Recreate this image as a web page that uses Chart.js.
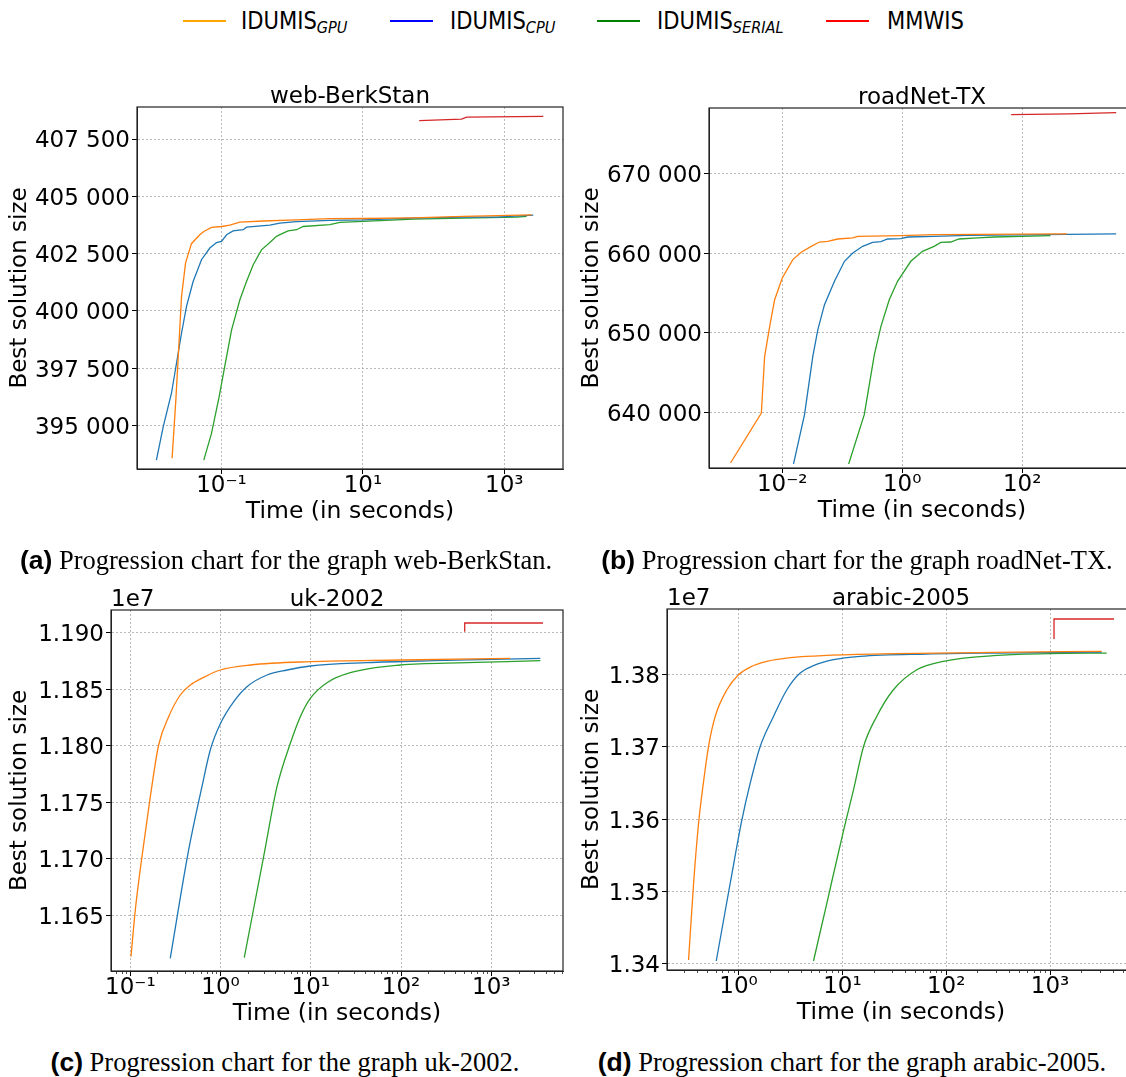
<!DOCTYPE html>
<html>
<head>
<meta charset="utf-8">
<script src="https://cdn.jsdelivr.net/npm/chart.js@4.4.1/dist/chart.umd.min.js"></script>
<style>
  html, body { margin: 0; padding: 0; background: #fff; overflow: hidden; }
  body { width: 1126px; height: 1077px; position: relative; font-family: "DejaVu Sans", sans-serif; }
  canvas { position: absolute; }
  .leg-line { position: absolute; top: 20px; height: 2px; width: 43px; }
  .leg-text { position: absolute; top: 9px; font-size: 24px; line-height: 24px; transform: scaleX(0.88); transform-origin: 0 0; white-space: nowrap; }
  .leg-text sub { font-size: 16.5px; font-style: italic; vertical-align: -4px; line-height: 0; }
  .cap { position: absolute; width: 700px; text-align: center; font-family: "Liberation Serif", serif; font-size: 26.5px; line-height: 26px; white-space: nowrap; }
  .cap b { font-family: "Liberation Sans", sans-serif; }
</style>
</head>
<body>
<div class="leg-line" style="left:183px;background:orange"></div>
<div class="leg-text" style="left:241px">IDUMIS<sub>GPU</sub></div>
<div class="leg-line" style="left:390px;background:blue"></div>
<div class="leg-text" style="left:450px">IDUMIS<sub>CPU</sub></div>
<div class="leg-line" style="left:597px;background:green"></div>
<div class="leg-text" style="left:657px">IDUMIS<sub>SERIAL</sub></div>
<div class="leg-line" style="left:826px;background:red"></div>
<div class="leg-text" style="left:887px">MMWIS</div>

<canvas id="chartA"></canvas>
<canvas id="chartB"></canvas>
<canvas id="chartC"></canvas>
<canvas id="chartD"></canvas>

<div class="cap" style="left:-64px;top:547px"><b>(a)</b> Progression chart for the graph web-BerkStan.</div>
<div class="cap" style="left:507px;top:547px"><b>(b)</b> Progression chart for the graph roadNet-TX.</div>
<div class="cap" style="left:-65px;top:1049px"><b>(c)</b> Progression chart for the graph uk-2002.</div>
<div class="cap" style="left:502px;top:1049px"><b>(d)</b> Progression chart for the graph arabic-2005.</div>

<script>
// ---- web-BerkStan (time in s, best solution size) ----
const webGpuT = [0.0200, 0.0226, 0.0252, 0.0272, 0.0310, 0.0376, 0.0493, 0.0562, 0.0722, 0.100, 0.131, 0.163, 0.182, 0.389, 1.15, 3.41, 10.1, 51.6, 263, 2440];
const webGpuY = [393560, 396100, 398730, 400620, 402080, 402930, 403320, 403460, 403640, 403680, 403740, 403830, 403870, 403920, 403970, 404020, 404030, 404060, 404120, 404190];
const webCpuT = [0.0120, 0.0150, 0.0196, 0.0231, 0.0272, 0.0320, 0.0397, 0.0521, 0.0684, 0.0850, 0.100, 0.118, 0.146, 0.203, 0.226, 0.483, 0.668, 1.15, 3.41, 10.1, 51.6, 263, 780, 2570];
const webCpuY = [393480, 394940, 396400, 397710, 399020, 400190, 401280, 402230, 402740, 402980, 403030, 403320, 403490, 403540, 403650, 403740, 403830, 403890, 403950, 403970, 404050, 404090, 404090, 404180];
const webSerT = [0.0562, 0.0722, 0.0927, 0.111, 0.139, 0.182, 0.226, 0.281, 0.368, 0.483, 0.600, 0.706, 0.877, 1.15, 1.43, 3.41, 4.73, 10.1, 51.6, 263, 1496, 2070];
const webSerY = [393480, 394650, 396250, 397560, 399170, 400480, 401280, 402010, 402660, 402980, 403250, 403360, 403490, 403540, 403680, 403760, 403860, 403900, 404000, 404050, 404090, 404120];
const webMmwT = [62.7, 249, 293, 3565];
const webMmwY = [408300, 408370, 408460, 408490];
const webXRange = [0.00638, 6776];
const webYRange = [393092, 408898];
const webXTicks = [0.1, 10, 1000];
const webYTicks = [395000, 397500, 400000, 402500, 405000, 407500];

// ---- roadNet-TX ----
const roadGpuT = [0.00137, 0.00448, 0.00508, 0.00632, 0.00746, 0.0100, 0.0150, 0.0207, 0.0303, 0.0417, 0.0574, 0.0841, 0.150, 0.181, 0.951, 3.40, 560];
const roadGpuY = [633680, 639960, 647070, 651260, 654180, 656900, 659210, 660130, 660880, 661420, 661510, 661800, 661930, 662130, 662220, 662340, 662430];
const roadCpuT = [0.0154, 0.0235, 0.0323, 0.0392, 0.0506, 0.0742, 0.109, 0.150, 0.219, 0.321, 0.442, 0.570, 0.951, 1.23, 3.40, 12.2, 3700];
const roadCpuY = [633560, 639750, 647070, 650420, 653560, 656490, 659000, 660040, 660880, 661380, 661460, 661800, 661840, 662050, 662130, 662260, 662430];
const roadSerT = [0.128, 0.233, 0.343, 0.442, 0.608, 0.836, 1.39, 2.18, 3.40, 4.40, 6.45, 8.86, 17.9, 33.8, 296];
const roadSerY = [633560, 639750, 647280, 650840, 654180, 656490, 659000, 660250, 660880, 661380, 661420, 661800, 661930, 662050, 662220];
const roadMmwT = [65.6, 600, 3700];
const roadMmwY = [677400, 677500, 677660];
const roadXRange = [0.000644, 7620];
const roadYRange = [633054, 678243];
const roadXTicks = [0.01, 1, 100];
const roadYTicks = [640000, 650000, 660000, 670000];

// ---- uk-2002 ----
const ukGpuT = [0.1017, 0.1136, 0.1346, 0.1666, 0.206, 0.266, 0.358, 0.462, 0.650, 0.993, 2.14, 9.87, 98.1, 1626];
const ukGpuY = [11613450, 11654730, 11701890, 11754960, 11800650, 11825710, 11844870, 11853720, 11860500, 11866980, 11871400, 11874350, 11875830, 11877300];
const ukCpuT = [0.277, 0.443, 0.622, 0.769, 1.00, 1.40, 1.96, 3.27, 5.44, 9.87, 41.9, 229, 3490];
const ukCpuY = [11611980, 11707790, 11763800, 11796230, 11819810, 11838980, 11852240, 11862560, 11866980, 11870520, 11873470, 11875240, 11877300];
const ukSerT = [1.83, 3.00, 4.22, 5.93, 7.65, 9.87, 15.1, 27.4, 98.1, 537, 3490];
const ukSerY = [11612570, 11701890, 11763800, 11802130, 11825710, 11841920, 11855780, 11864620, 11871400, 11873470, 11875240];
const ukMmwT = [507, 507, 3740];
const ukMmwY = [11900880, 11908550, 11908550];
const ukXRange = [0.0611, 6223];
const ukYRange = [11600768, 11920046];
const ukXTicks = [0.1, 1, 10, 100, 1000];
const ukYTicks = [11650000, 11700000, 11750000, 11800000, 11850000, 11900000];

// ---- arabic-2005 ----
const arGpuT = [0.330, 0.369, 0.412, 0.454, 0.514, 0.596, 0.773, 1.00, 1.295, 1.874, 3.38, 7.08, 31.0, 285, 3140];
const arGpuY = [13405080, 13511310, 13594450, 13645260, 13700690, 13742260, 13779210, 13800000, 13810620, 13818480, 13824020, 13826790, 13829100, 13830950, 13832330];
const arCpuT = [0.610, 0.831, 1.077, 1.295, 1.616, 2.17, 2.92, 3.92, 5.27, 8.21, 14.8, 65.0, 285, 3140];
const arCpuY = [13403690, 13511310, 13599070, 13649880, 13700690, 13742260, 13779210, 13802310, 13812470, 13820790, 13825410, 13828640, 13830020, 13831410];
const arSerT = [5.27, 7.08, 10.3, 12.8, 16.0, 21.4, 31.0, 52.1, 94.0, 285, 1000, 3510];
const arSerY = [13403690, 13483600, 13585220, 13640650, 13700690, 13742260, 13779210, 13806930, 13818480, 13826330, 13829100, 13830020];
const arMmwT = [1092, 1092, 4130];
const arMmwY = [13849420, 13877140, 13877140];
const arXRange = [0.2046, 6580];
const arYRange = [13391224, 13890994];
const arXTicks = [1, 10, 100, 1000];
const arYTicks = [13400000, 13500000, 13600000, 13700000, 13800000];

const seriesNames = ["IDUMIS GPU", "IDUMIS CPU", "IDUMIS SERIAL", "MMWIS"];
const seriesColors = ["#ff7f0e", "#1f77b4", "#2ca02c", "#d62728"];

Chart.defaults.font.family = "'DejaVu Sans', sans-serif";
Chart.defaults.color = "#000";

const FS = 23;
const XH = 55; // height of x axis block

const sup = { "-": "\u207B", "0": "\u2070", "1": "\u00B9", "2": "\u00B2", "3": "\u00B3" };
function pow10Label(v) {
  const e = Math.round(Math.log10(v));
  return "10" + String(e).split("").map(c => sup[c]).join("");
}
function spaced(v) {
  return String(Math.round(v)).replace(/\B(?=(\d{3})+(?!\d))/g, " ");
}
function pts(t, y) {
  return t.map((v, i) => ({ x: v, y: y[i] }));
}

// frame on all four sides, minor log ticks, title over the plot area, offset text
const framePlugin = {
  id: "frame",
  afterDraw(chart) {
    const a = chart.chartArea, ctx = chart.ctx;
    const o = chart.options.plugins.extra || {};
    ctx.save();
    ctx.strokeStyle = "#222";
    ctx.lineWidth = 1.2;
    ctx.strokeRect(a.left, a.top, a.right - a.left, a.bottom - a.top);
    if (o.minor) {
      const sx = chart.scales.x;
      const lo = Math.floor(Math.log10(sx.min)), hi = Math.ceil(Math.log10(sx.max));
      ctx.lineWidth = 0.8;
      for (let k = lo; k <= hi; k++) {
        for (let m = 2; m <= 9; m++) {
          const v = m * Math.pow(10, k);
          if (v <= sx.min || v >= sx.max) continue;
          const px = Math.round(sx.getPixelForValue(v)) + 0.5;
          ctx.beginPath();
          ctx.moveTo(px, a.bottom);
          ctx.lineTo(px, a.bottom + 3);
          ctx.stroke();
        }
      }
    }
    ctx.fillStyle = "#000";
    ctx.font = FS + "px 'DejaVu Sans'";
    ctx.textBaseline = "alphabetic";
    ctx.textAlign = "center";
    ctx.fillText(o.title, (a.left + a.right) / 2, a.top - 4);
    if (o.offsetText) {
      ctx.textAlign = "left";
      ctx.fillText(o.offsetText, a.left, a.top - 4);
    }
    ctx.restore();
  }
};

function makePanel(id, box, plot, xRange, yRange, xTicks, yTicks, yFmt, data, extra) {
  const cv = document.getElementById(id);
  cv.width = box.w;
  cv.height = box.h;
  cv.style.left = box.l + "px";
  cv.style.top = box.t + "px";
  const gridStyle = {
    color: "#a8a8a8",
    lineWidth: 0.8,
    tickColor: "#000",
    tickLength: 5,
    tickWidth: 1,
    tickBorderDash: []
  };
  return new Chart(cv.getContext("2d"), {
    type: "line",
    data: {
      datasets: data.map((d, i) => ({
        label: seriesNames[i],
        data: pts(d[0], d[1]),
        borderColor: seriesColors[i],
        backgroundColor: seriesColors[i],
        borderWidth: 1.3,
        pointRadius: 0,
        tension: 0,
        cubicInterpolationMode: extra.smooth && i < 3 ? "monotone" : "default",
        fill: false
      }))
    },
    options: {
      responsive: false,
      animation: false,
      events: [],
      layout: {
        padding: {
          left: 0,
          top: plot.t - box.t,
          right: box.l + box.w - plot.r,
          bottom: box.t + box.h - plot.b - XH
        }
      },
      plugins: {
        legend: { display: false },
        tooltip: { enabled: false },
        title: { display: false },
        extra: extra
      },
      scales: {
        x: {
          type: "logarithmic",
          min: xRange[0],
          max: xRange[1],
          afterBuildTicks: s => { s.ticks = xTicks.map(v => ({ value: v })); },
          afterFit: s => { s.height = XH; },
          ticks: {
            autoSkip: false,
            maxRotation: 0,
            padding: 1,
            font: { size: FS, lineHeight: 1 },
            callback: v => pow10Label(v)
          },
          grid: gridStyle,
          border: { color: "#222", width: 1, dash: [2, 2] },
          title: {
            display: true,
            text: "Time (in seconds)",
            font: { size: 23.5, lineHeight: 1 },
            padding: { top: 0, bottom: 0 }
          }
        },
        y: {
          type: "linear",
          min: yRange[0],
          max: yRange[1],
          afterBuildTicks: s => { s.ticks = yTicks.map(v => ({ value: v })); },
          afterFit: s => { s.width = plot.l - box.l; },
          ticks: {
            autoSkip: false,
            padding: 2,
            labelOffset: 2.5,
            font: { size: FS, lineHeight: 1 },
            callback: v => yFmt(v)
          },
          grid: gridStyle,
          border: { color: "#222", width: 1, dash: [2, 2] },
          title: {
            display: true,
            text: "Best solution size",
            font: { size: FS, lineHeight: 1 },
            padding: { top: extra.yTitlePad, bottom: 0 }
          }
        }
      }
    },
    plugins: [framePlugin]
  });
}

makePanel("chartA", { l: 0, t: 60, w: 575, h: 480 }, { l: 137, t: 107, r: 563, b: 469 },
  webXRange, webYRange, webXTicks, webYTicks, spaced,
  [[webGpuT, webGpuY], [webCpuT, webCpuY], [webSerT, webSerY], [webMmwT, webMmwY]],
  { title: "web-BerkStan", yTitlePad: 8.5 });

makePanel("chartB", { l: 575, t: 60, w: 570, h: 480 }, { l: 709, t: 108, r: 1135, b: 468 },
  roadXRange, roadYRange, roadXTicks, roadYTicks, spaced,
  [[roadGpuT, roadGpuY], [roadCpuT, roadCpuY], [roadSerT, roadSerY], [roadMmwT, roadMmwY]],
  { title: "roadNet-TX", yTitlePad: 5.5 });

makePanel("chartC", { l: 0, t: 570, w: 575, h: 470 }, { l: 111, t: 610, r: 563, b: 971 },
  ukXRange, ukYRange, ukXTicks, ukYTicks, v => (v / 1e7).toFixed(3),
  [[ukGpuT, ukGpuY], [ukCpuT, ukCpuY], [ukSerT, ukSerY], [ukMmwT, ukMmwY]],
  { title: "uk-2002", yTitlePad: 8.5, minor: true, smooth: true, offsetText: "1e7" });

makePanel("chartD", { l: 575, t: 570, w: 570, h: 470 }, { l: 667, t: 609, r: 1135, b: 970 },
  arXRange, arYRange, arXTicks, arYTicks, v => (v / 1e7).toFixed(2),
  [[arGpuT, arGpuY], [arCpuT, arCpuY], [arSerT, arSerY], [arMmwT, arMmwY]],
  { title: "arabic-2005", yTitlePad: 5.5, minor: true, smooth: true, offsetText: "1e7" });
</script>
</body>
</html>
